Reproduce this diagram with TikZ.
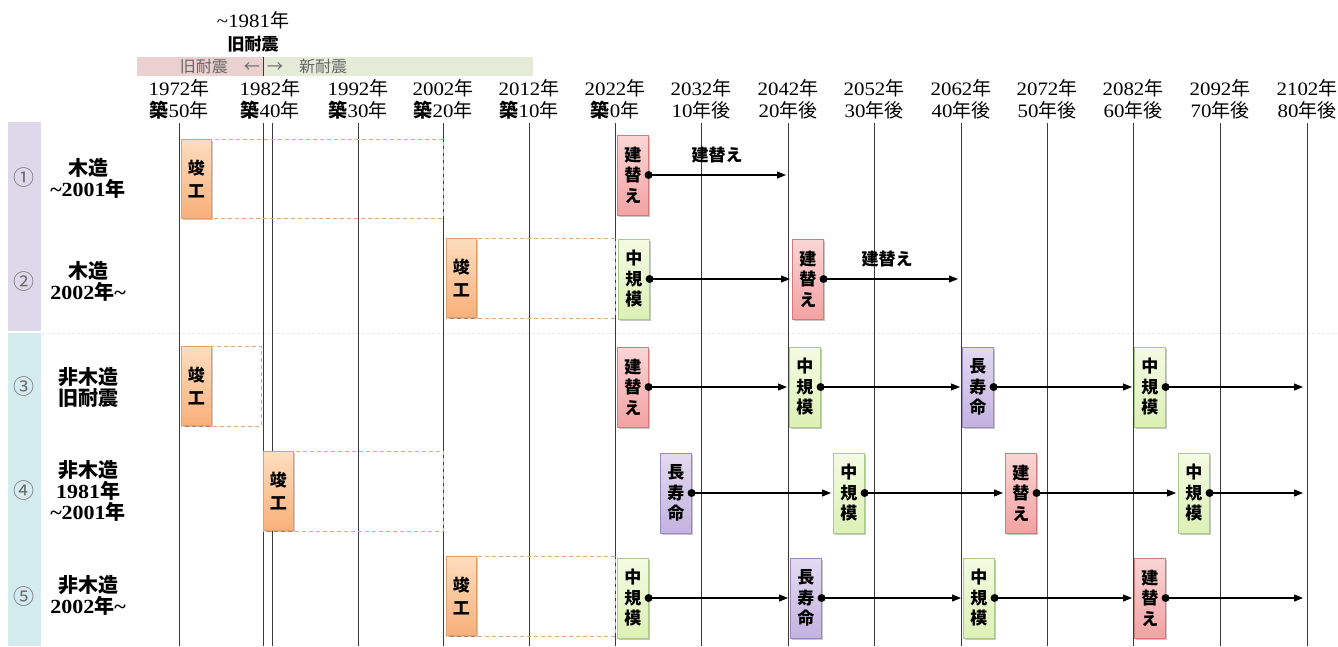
\documentclass[tikz,border=0pt]{standalone}
\usepackage{fontspec}
\setmainfont{Liberation Serif}[FakeStretch=1.1]
\newfontfamily\cjk{Noto Sans CJK JP}
\newcommand\jtx[1]{{\cjk #1}}
\usetikzlibrary{arrows.meta,shadows}
\definecolor{gridc}{HTML}{3A3A3A}
\definecolor{lav}{HTML}{DDD9EA}
\definecolor{lblue}{HTML}{D4EBF0}
\definecolor{barpink}{HTML}{EBD0D0}
\definecolor{bargreen}{HTML}{E6EBD8}
\definecolor{orgT}{HTML}{FDDDBE}
\definecolor{orgB}{HTML}{F8B07A}
\definecolor{orgD}{HTML}{E0A06C}
\definecolor{pinkT}{HTML}{FBD5D5}
\definecolor{pinkB}{HTML}{F3A2A2}
\definecolor{pinkD}{HTML}{CF7C7C}
\definecolor{grnT}{HTML}{F4FBE3}
\definecolor{grnB}{HTML}{DCF1B5}
\definecolor{grnD}{HTML}{A9C98A}
\definecolor{purT}{HTML}{E3DAF1}
\definecolor{purB}{HTML}{C3B2E0}
\definecolor{purD}{HTML}{9A88BE}
\definecolor{dashc}{HTML}{EDA472}
\definecolor{bartxt}{HTML}{666666}
\definecolor{numc}{HTML}{6A6A6A}
\tikzset{
  gridln/.style={draw=gridc, line width=0.8pt},
  jbox/.style={draw, line width=0.6pt, minimum width=31pt, minimum height=80pt,
    inner sep=0pt, align=center, anchor=west,
    font=\cjk\bfseries\fontsize{17}{20.5}\selectfont,
    drop shadow={shadow xshift=1.8pt, shadow yshift=-1.8pt, fill=black, opacity=0.22}},
  kanbox/.style={jbox, minimum width=30pt, minimum height=79pt, top color=orgT, bottom color=orgB, draw=orgD,
    font=\cjk\bfseries\fontsize{17}{23}\selectfont},
  rebox/.style={jbox, top color=pinkT, bottom color=pinkB, draw=pinkD},
  midbox/.style={jbox, top color=grnT, bottom color=grnB, draw=grnD},
  longbox/.style={jbox, top color=purT, bottom color=purB, draw=purD},
  ghost/.style={draw=dashc, line width=0.9pt, dash pattern=on 4pt off 3pt},
  flow/.style={-{Triangle[length=9pt,width=7pt]}, line width=1.1pt, shorten >=2pt},
  yrlab/.style={inner sep=0pt, font=\fontsize{19}{21}\selectfont},
  rowlab/.style={inner sep=0pt, align=center, font=\bfseries\fontsize{20}{21}\selectfont},
  circnum/.style={inner sep=0pt, text=numc, font=\cjk\fontsize{21}{22}\selectfont},
  bartext/.style={inner sep=0pt, text=bartxt, font=\cjk\fontsize{16}{18}\selectfont},
  arrlab/.style={inner sep=0pt, font=\cjk\bfseries\fontsize{17}{19}\selectfont}
}
\begin{document}
\begin{tikzpicture}[x=1pt,y=-1pt]
\useasboundingbox (0,0) rectangle (1338,646);
\fill[white] (0,0) rectangle (1338,646);

% header
\node[inner sep=0pt, font=\fontsize{19}{21}\selectfont] (h1981) at (253,20) {\textasciitilde 1981\jtx{年}};
\node[inner sep=0pt, font=\cjk\bfseries\fontsize{17}{19}\selectfont] (hold) at (253,44) {旧耐震};
\fill[barpink] (137,57) rectangle (263,76);
\fill[bargreen] (263,57) rectangle (533,76);
\node[bartext, anchor=east] (barold) at (260,66.5) {旧耐震　←};
\node[bartext, anchor=west] (barnew) at (267,66.5) {→　新耐震};

% year labels
\foreach \x/\yr/\ag [count=\i] in {
  179/1972/{{\bfseries\jtx{築}}50\jtx{年}},
  270/1982/{{\bfseries\jtx{築}}40\jtx{年}},
  358/1992/{{\bfseries\jtx{築}}30\jtx{年}},
  443/2002/{{\bfseries\jtx{築}}20\jtx{年}},
  529/2012/{{\bfseries\jtx{築}}10\jtx{年}},
  615/2022/{{\bfseries\jtx{築}}0\jtx{年}},
  701/2032/{10\jtx{年後}},
  788/2042/{20\jtx{年後}},
  874/2052/{30\jtx{年後}},
  961/2062/{40\jtx{年後}},
  1047/2072/{50\jtx{年後}},
  1133/2082/{60\jtx{年後}},
  1220/2092/{70\jtx{年後}},
  1307/2102/{80\jtx{年後}}}{
  \node[yrlab] (yr\i) at (\x,88) {\yr\jtx{年}};
  \node[yrlab] (ag\i) at (\x,110) {\ag};
}

% left strip
\fill[lav] (8,122) rectangle (41,331);
\fill[lblue] (8,333) rectangle (41,646);
\draw[gray!18, dash pattern=on 3pt off 2pt] (42,333) -- (1338,333);

% grid
\draw[gridln] (263,57) -- (263,76);
\foreach \x in {179,263,272,358,443,529,615,701,788,874,961,1047,1133,1220,1307}
  \draw[gridln] (\x,123) -- (\x,646);

% row labels
\node[circnum] (c1) at (24,178) {①};
\node[circnum] (c2) at (24,282) {②};
\node[circnum] (c3) at (24,387) {③};
\node[circnum] (c4) at (24,491) {④};
\node[circnum] (c5) at (24,597) {⑤};
\node[rowlab] (l1) at (88,178) {\jtx{木造}\\\textasciitilde 2001\jtx{年}};
\node[rowlab] (l2) at (88,281) {\jtx{木造}\\2002\jtx{年}\textasciitilde};
\node[rowlab] (l3) at (88,387) {\jtx{非木造}\\\jtx{旧耐震}};
\node[rowlab] (l4) at (88,491) {\jtx{非木造}\\1981\jtx{年}\\\textasciitilde 2001\jtx{年}};
\node[rowlab] (l5) at (88,595) {\jtx{非木造}\\2002\jtx{年}\textasciitilde};

% dashed extents
\draw[ghost] (181,139) rectangle (443,218);
\draw[ghost] (446,238) rectangle (615,318);
\draw[ghost] (181,346) rectangle (261,426);
\draw[ghost] (263,451) rectangle (443,531);
\draw[ghost] (446,556) rectangle (615,636);

% row 1
\node[kanbox] (k1) at (181,178.5) {竣\\工};
\node[rebox] (r1a) at (617,175) {建\\替\\え};
\coordinate (r1e) at (788,175);
\node[arrlab] (t1) at (717,155) {建替え};

% row 2
\node[kanbox] (k2) at (446,278) {竣\\工};
\node[midbox] (r2a) at (618,279) {中\\規\\模};
\node[rebox] (r2b) at (792,279) {建\\替\\え};
\coordinate (r2e) at (960,279);
\node[arrlab] (t2) at (887,259) {建替え};

% row 3
\node[kanbox] (k3) at (181,386) {竣\\工};
\node[rebox] (r3a) at (617,387) {建\\替\\え};
\node[midbox] (r3b) at (789,387) {中\\規\\模};
\node[longbox] (r3c) at (962,387) {長\\寿\\命};
\node[midbox] (r3d) at (1134,387) {中\\規\\模};
\coordinate (r3e) at (1305,387);

% row 4
\node[kanbox] (k4) at (263,491) {竣\\工};
\node[longbox] (r4a) at (660,493) {長\\寿\\命};
\node[midbox] (r4b) at (833,493) {中\\規\\模};
\node[rebox] (r4c) at (1005,493) {建\\替\\え};
\node[midbox] (r4d) at (1178,493) {中\\規\\模};
\coordinate (r4e) at (1305,493);

% row 5
\node[kanbox] (k5) at (446,596) {竣\\工};
\node[midbox] (r5a) at (617,598) {中\\規\\模};
\node[longbox] (r5b) at (790,598) {長\\寿\\命};
\node[midbox] (r5c) at (963,598) {中\\規\\模};
\node[rebox] (r5d) at (1134,598) {建\\替\\え};
\coordinate (r5e) at (1305,598);

% connectors
\foreach \a/\b in {r1a/r1e, r2a/r2b, r2b/r2e,
                   r3a/r3b, r3b/r3c, r3c/r3d, r3d/r3e,
                   r4a/r4b, r4b/r4c, r4c/r4d, r4d/r4e,
                   r5a/r5b, r5b/r5c, r5c/r5d, r5d/r5e}{
  \draw[flow] (\a.east) -- (\b);
  \fill (\a.east) circle (4pt);
}
\end{tikzpicture}
\end{document}
